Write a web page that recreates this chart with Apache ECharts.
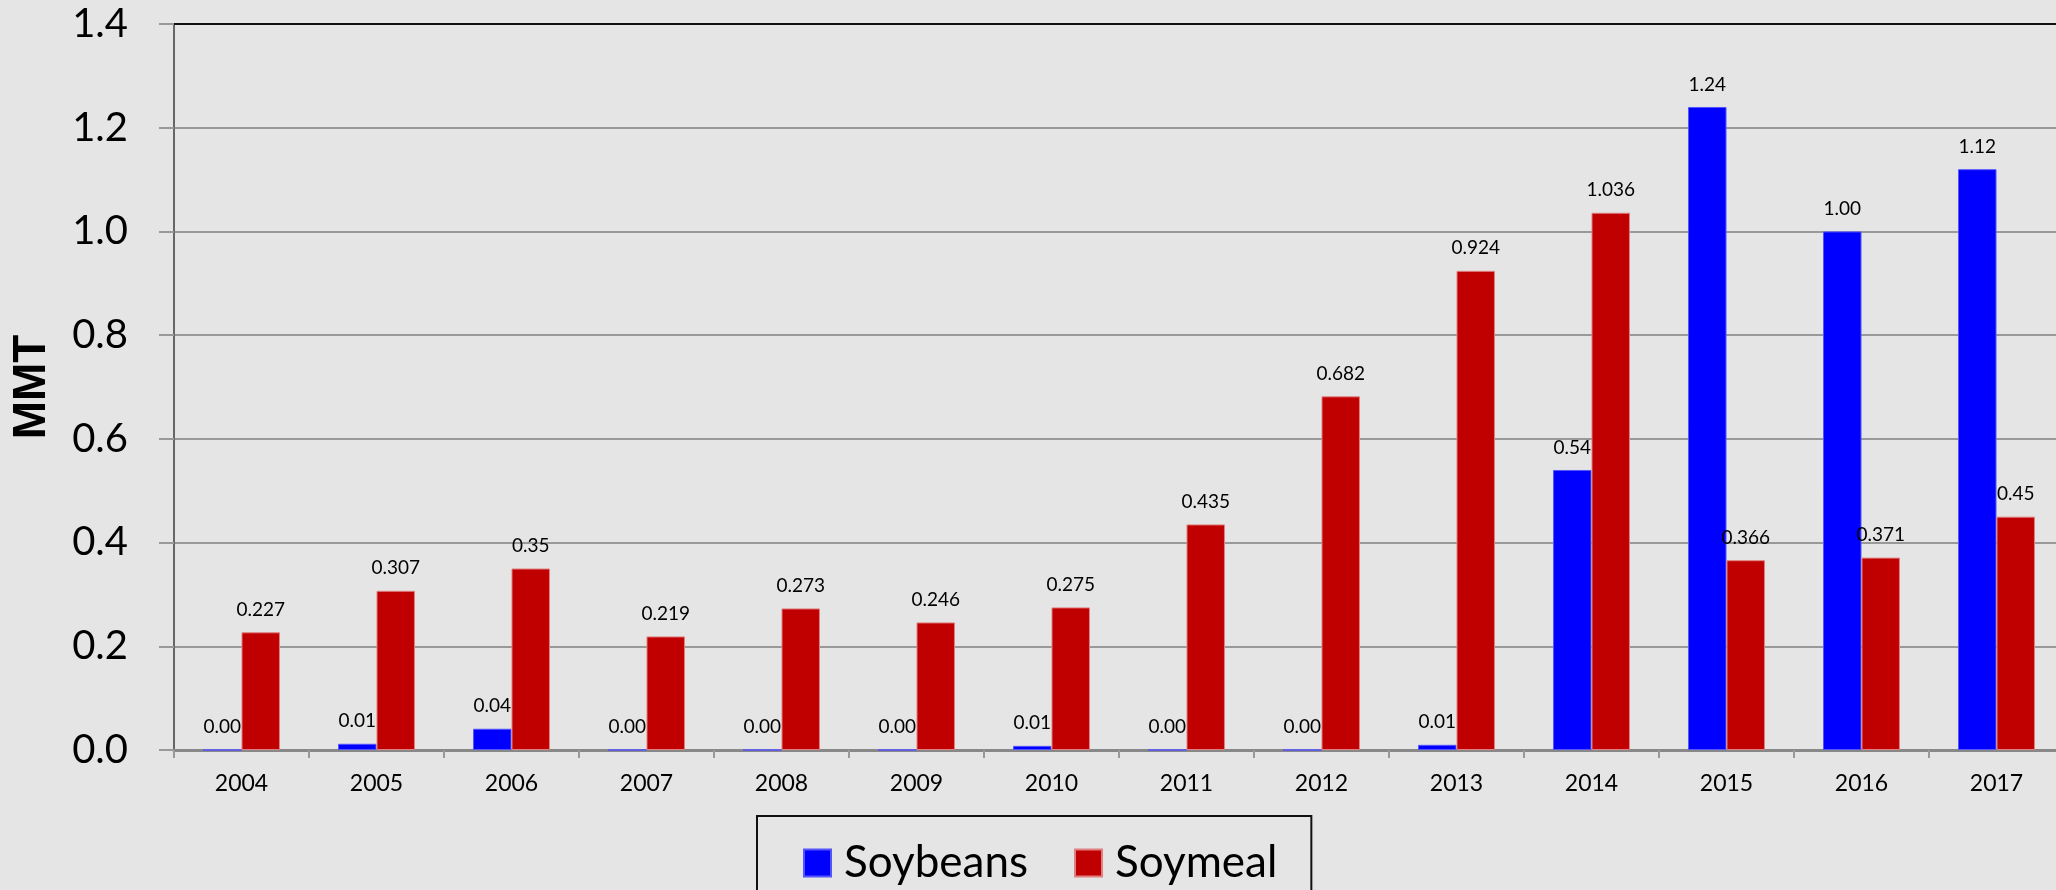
<!DOCTYPE html>
<html>
<head>
<meta charset="utf-8">
<script src="https://cdn.jsdelivr.net/npm/echarts@6/dist/echarts.min.js"></script>
<style>
html,body{margin:0;padding:0;background:#e5e5e5;overflow:hidden;}
#chart{width:2056px;height:890px;}
</style>
</head>
<body>
<div id="chart"></div>
<script>
const years = ['2004','2005','2006','2007','2008','2009','2010','2011','2012','2013','2014','2015','2016','2017'];
const soybeans = [0.0, 0.012, 0.041, 0.0, 0.0, 0.0, 0.008, 0.0, 0.0, 0.01, 0.54, 1.24, 1.0, 1.12];
const soymeal = [0.227, 0.307, 0.35, 0.219, 0.273, 0.246, 0.275, 0.435, 0.682, 0.924, 1.036, 0.366, 0.371, 0.45];
const yTicks = { min: 0, max: 1.4, interval: 0.2 };

const FONT = 'Lato, "Noto Sans", sans-serif';
const chart = echarts.init(document.getElementById('chart'));
chart.setOption({
  backgroundColor: '#e5e5e5',
  animation: false,
  textStyle: { fontFamily: FONT },
  grid: { left: 174, top: 24, right: -8, bottom: 140, show: false, outerBoundsMode: 'none', containLabel: false },
  legend: {
    left: 757, top: 816,
    padding: [25, 34, 80, 46],
    borderColor: '#111', borderWidth: 2,
    itemWidth: 27, itemHeight: 27, itemGap: 46,
    icon: 'rect',
    textStyle: { fontSize: 44, color: '#000', fontFamily: FONT, padding: [0, 0, 0, 8] },
    data: ['Soybeans', 'Soymeal']
  },
  xAxis: [{
    type: 'category',
    data: years,
    axisLine: { lineStyle: { color: '#888', width: 3 } },
    axisTick: { show: true, length: 8, lineStyle: { color: '#999', width: 2 } },
    splitLine: { show: false },
    axisLabel: { fontSize: 23, color: '#000', margin: 22, fontFamily: FONT }
  }, {
    type: 'category',
    position: 'top',
    data: years,
    axisLine: { show: true, lineStyle: { color: '#111', width: 2 } },
    axisTick: { show: false },
    splitLine: { show: false },
    axisLabel: { show: false }
  }],
  yAxis: {
    type: 'value',
    min: yTicks.min, max: yTicks.max, interval: yTicks.interval,
    name: 'MMT', nameLocation: 'middle', nameGap: 119, nameRotate: 90,
    nameTextStyle: { fontSize: 46, fontWeight: 'bold', color: '#000', fontFamily: '"Liberation Sans", Arial, sans-serif' },
    axisLine: { show: true, lineStyle: { color: '#666', width: 2 } },
    axisTick: { show: true, length: 15, lineStyle: { color: '#999', width: 2 } },
    splitLine: { lineStyle: { color: '#999', width: 2 } },
    axisLabel: { fontSize: 40, color: '#000', margin: 46, fontFamily: FONT, formatter: v => v.toFixed(1) }
  },
  series: [
    {
      name: 'Soybeans', type: 'bar', data: soybeans,
      barGap: '0%', barCategoryGap: '43%',
      itemStyle: { color: '#0000ff', borderColor: '#5555ff', borderWidth: 1 },
      label: { show: true, position: 'top', distance: 13, fontSize: 19, color: '#000', fontFamily: FONT, formatter: p => p.value.toFixed(2) }
    },
    {
      name: 'Soymeal', type: 'bar', data: soymeal,
      barGap: '0%', barCategoryGap: '43%',
      itemStyle: { color: '#c00000', borderColor: '#e08080', borderWidth: 1 },
      label: { show: true, position: 'top', distance: 13, fontSize: 19, color: '#000', fontFamily: FONT, formatter: p => String(p.value) }
    }
  ]
});
</script>
</body>
</html>
